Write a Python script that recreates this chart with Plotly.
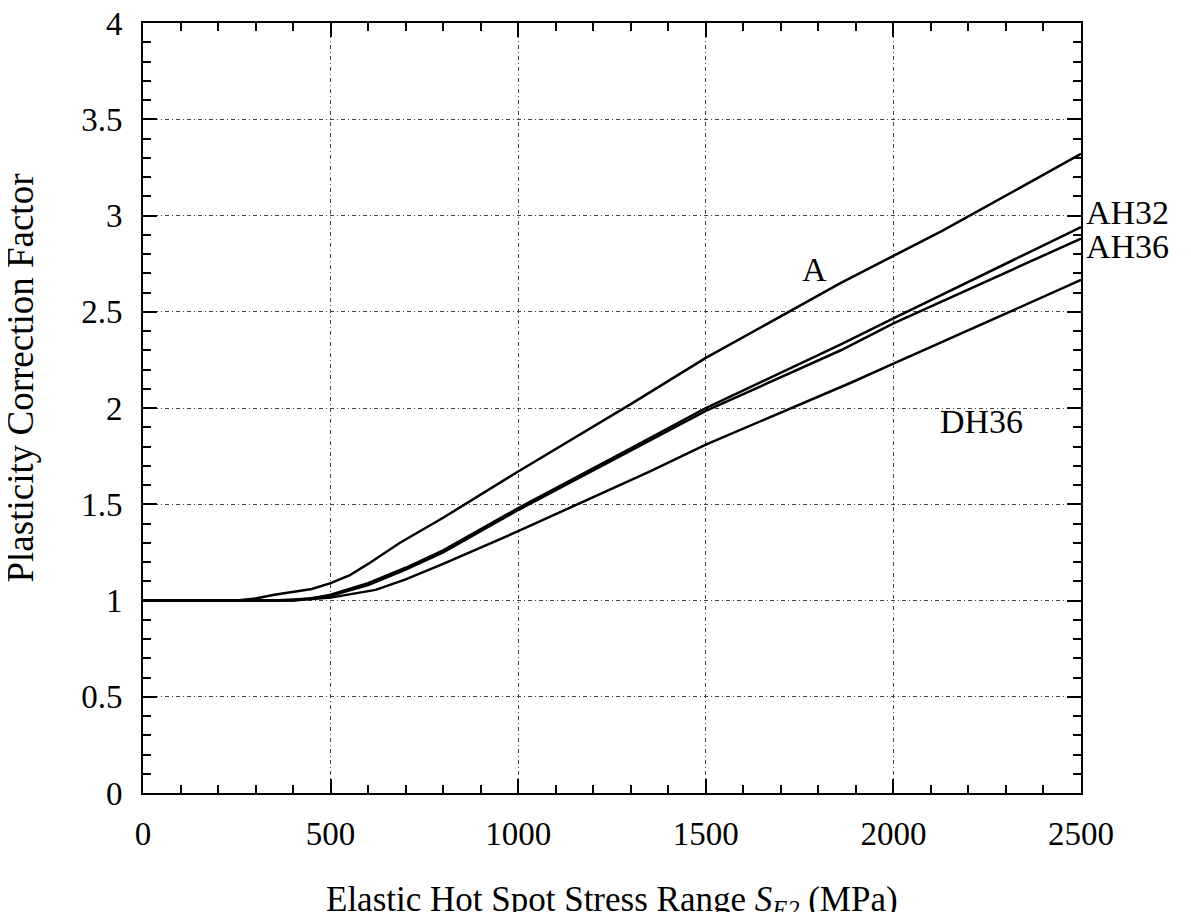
import plotly.graph_objects as go

# curves
x_A = [0, 250, 300, 350, 450, 500, 550, 600, 685, 800, 1000, 1300, 1500, 1860, 2000, 2130, 2500]
y_A = [1.0, 1.0, 1.01, 1.03, 1.06, 1.09, 1.13, 1.19, 1.30, 1.43, 1.67, 2.02, 2.26, 2.65, 2.79, 2.92, 3.32]

x_AH32 = [0, 350, 450, 500, 600, 700, 800, 1000, 1300, 1500, 1860, 2000, 2500]
y_AH32 = [1.0, 1.0, 1.01, 1.03, 1.09, 1.17, 1.26, 1.48, 1.79, 2.0, 2.33, 2.465, 2.94]

x_AH36 = [0, 400, 500, 600, 700, 800, 1000, 1300, 1500, 1860, 2000, 2500]
y_AH36 = [1.0, 1.0, 1.025, 1.08, 1.16, 1.25, 1.47, 1.78, 1.985, 2.30, 2.44, 2.88]

x_DH36 = [0, 400, 500, 620, 700, 800, 1000, 1350, 1500, 1885, 2000, 2500]
y_DH36 = [1.0, 1.0, 1.015, 1.055, 1.11, 1.19, 1.36, 1.67, 1.81, 2.13, 2.23, 2.665]

curves = [("A", x_A, y_A), ("AH32", x_AH32, y_AH32),
          ("AH36", x_AH36, y_AH36), ("DH36", x_DH36, y_DH36)]

# curve labels inside the plot: (text, x, y) in data units
inner_labels = [("A", 1790, 2.72), ("DH36", 2235, 1.93)]
# labels right of the frame: (text, y) in data units
outer_labels = [("AH32", 3.015), ("AH36", 2.84)]

FONT = "Liberation Serif, Times New Roman, serif"

fig = go.Figure()
for name, xs, ys in curves:
    fig.add_trace(go.Scatter(x=xs, y=ys, name=name, mode="lines",
                             line=dict(color="black", width=2.5)))

for text, lx, ly in inner_labels:
    fig.add_annotation(x=lx, y=ly, text=text, showarrow=False,
                       font=dict(family=FONT, size=34, color="black"))
for text, ly in outer_labels:
    fig.add_annotation(xref="paper", x=1, xanchor="left", xshift=3, y=ly,
                       text=text, showarrow=False,
                       font=dict(family=FONT, size=34, color="black"))

axis_common = dict(
    showline=True, linecolor="black", linewidth=2, mirror="ticks",
    ticks="inside", ticklen=14, tickwidth=2, tickcolor="black",
    showgrid=True, gridcolor="#444444", gridwidth=1, griddash="4px,3px,1px,3px",
    zeroline=False, automargin=False, ticklabeloverflow="allow",
    tickfont=dict(family=FONT, size=33, color="black"),
)

fig.update_xaxes(range=[0, 2500], dtick=500,
                 minor=dict(dtick=100, ticks="inside", ticklen=8, tickwidth=2,
                            tickcolor="black", showgrid=False),
                 ticklabelstandoff=10, **axis_common)
fig.update_yaxes(range=[0, 4], dtick=0.5,
                 minor=dict(dtick=0.1, ticks="inside", ticklen=8, tickwidth=2,
                            tickcolor="black", showgrid=False),
                 ticklabelstandoff=12, **axis_common)

# axis titles
fig.add_annotation(xref="paper", yref="paper", x=0.5, y=0, yanchor="top", yshift=-85,
                   text="Elastic Hot Spot Stress Range <i>S</i><sub><i>E2</i></sub> (MPa)",
                   showarrow=False, font=dict(family=FONT, size=35, color="black"))
fig.add_annotation(xref="paper", yref="paper", x=0, y=0.5, xanchor="right", xshift=-101,
                   yshift=30, textangle=-90,
                   text="Plasticity Correction Factor",
                   showarrow=False, font=dict(family=FONT, size=37, color="black"))

# the page body adds 8px around the figure, so margins are set to land the frame
# at the same pixels as the reference
fig.update_layout(
    width=1191, height=912,
    margin=dict(l=135, r=118, t=15, b=127),
    paper_bgcolor="white", plot_bgcolor="white",
    showlegend=False,
    font=dict(family=FONT, color="black"),
)

fig.write_html("out.html")
